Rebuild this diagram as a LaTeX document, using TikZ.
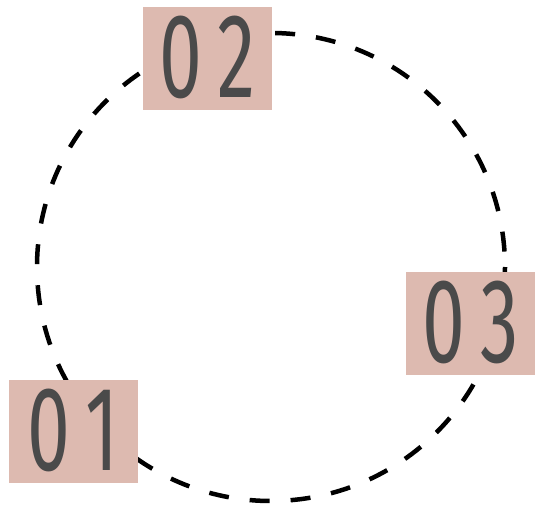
\documentclass[tikz,border=0pt]{standalone}
\usepackage{fontspec}
\newfontfamily\numfont{Fira Sans}
\definecolor{boxfill}{HTML}{DDBAB0}
\definecolor{numgray}{HTML}{4A4A4A}
\newcommand{\numtxt}[2]{\raisebox{3pt}{\scalebox{0.64}[1]{#1\kern24pt #2}}}
\begin{document}
\begin{tikzpicture}[x=1pt,y=-1pt,
  numbox/.style={fill=boxfill, minimum width=129pt, minimum height=103pt, inner sep=0pt, text=numgray,
    font=\numfont\fontsize{120}{120}\selectfont},
  ring/.style={draw=black, line width=4.5pt, dash pattern=on 20pt off 21pt}]
\useasboundingbox (0,0) rectangle (535,511);
\coordinate (c) at (271,267);
\draw[ring] (c) circle[radius=234];
\node[numbox] (n2) at (207.5,58.5) {\numtxt{0}{2}};
\node[numbox] (n3) at (470.5,323.5) {\numtxt{0}{3}};
\node[numbox] (n1) at (73,431.5) {\numtxt{0}{1}};
\end{tikzpicture}
\end{document}
